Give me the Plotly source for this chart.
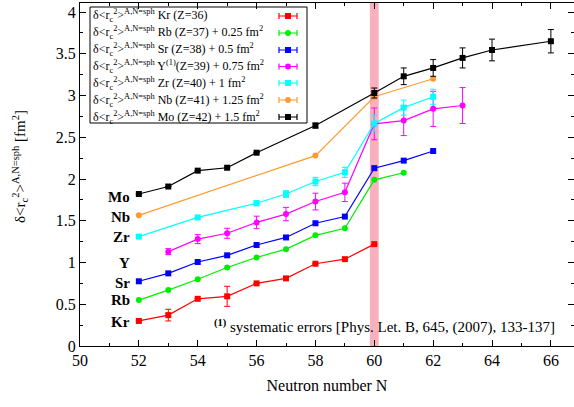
import plotly.graph_objects as go

# ---------------- data (plotted values, offsets already included) ----------------
kr_n = [52, 53, 54, 55, 56, 57, 58, 59, 60]
kr_v = [0.30, 0.37, 0.565, 0.595, 0.75, 0.81, 0.985, 1.04, 1.22]
kr_e = [0, 0.07, 0, 0.12, 0, 0, 0, 0, 0]

rb_n = [52, 53, 54, 55, 56, 57, 58, 59, 60, 61]
rb_v = [0.55, 0.67, 0.80, 0.94, 1.06, 1.16, 1.325, 1.41, 1.99, 2.075]

sr_n = [52, 53, 54, 55, 56, 57, 58, 59, 60, 61, 62]
sr_v = [0.775, 0.87, 1.006, 1.086, 1.21, 1.30, 1.47, 1.55, 2.13, 2.22, 2.335]

y_n = [53, 54, 55, 56, 57, 58, 59, 60, 61, 62, 63]
y_v = [1.13, 1.28, 1.35, 1.48, 1.58, 1.73, 1.84, 2.66, 2.70, 2.84, 2.88]
y_e = [0.036, 0.054, 0.06, 0.075, 0.08, 0.10, 0.11, 0.19, 0.18, 0.21, 0.215]

zr_n = [52, 54, 56, 57, 58, 59, 60, 61, 62]
zr_v = [1.31, 1.54, 1.71, 1.82, 1.97, 2.08, 2.665, 2.855, 2.985]
zr_e = [0, 0, 0.03, 0.04, 0.05, 0.06, 0.10, 0.09, 0.09]

nb_n = [52, 58, 60, 62]
nb_v = [1.565, 2.28, 2.985, 3.20]

mo_n = [52, 53, 54, 55, 56, 58, 60, 61, 62, 63, 64, 66]
mo_v = [1.82, 1.91, 2.10, 2.135, 2.315, 2.64, 3.03, 3.23, 3.33, 3.45, 3.545, 3.65]
mo_e = [0, 0, 0, 0, 0, 0.03, 0.06, 0.10, 0.10, 0.12, 0.13, 0.14]

legend_labels = [
    "Kr (Z=36)",
    "Rb (Z=37) + 0.25 fm<sup>2</sup>",
    "Sr (Z=38) + 0.5 fm<sup>2</sup>",
    "Y<sup>(1)</sup>(Z=39) + 0.75 fm<sup>2</sup>",
    "Zr (Z=40) + 1 fm<sup>2</sup>",
    "Nb (Z=41) + 1.25 fm<sup>2</sup>",
    "Mo (Z=42) + 1.5 fm<sup>2</sup>",
]
side_labels = ["Kr", "Rb", "Sr", "Y", "Zr", "Nb", "Mo"]
side_label_y = [0.29, 0.55, 0.75, 0.99, 1.30, 1.55, 1.79]

tick_x = [50, 52, 54, 56, 58, 60, 62, 64, 66]
tick_y = [0, 0.5, 1, 1.5, 2, 2.5, 3, 3.5, 4]

series = [
    (kr_n, kr_v, kr_e, "#ff0000", "square"),
    (rb_n, rb_v, None, "#00ee00", "circle"),
    (sr_n, sr_v, None, "#0000ff", "square"),
    (y_n, y_v, y_e, "#ff00ff", "circle"),
    (zr_n, zr_v, zr_e, "#00ffff", "square"),
    (nb_n, nb_v, None, "#ff9a30", "circle"),
    (mo_n, mo_v, mo_e, "#000000", "square"),
]

FONT = "Liberation Serif"
W, H = 574, 407
PLOT_L, PLOT_R, PLOT_T, PLOT_B = 80, 574, 3, 346   # plot area in px
L, R, T, B = PLOT_L, W - PLOT_R, PLOT_T, H - PLOT_B


def px(xp):
    return (xp - PLOT_L) / (PLOT_R - PLOT_L)


def py(yp):
    return (PLOT_B - yp) / (PLOT_B - PLOT_T)


fig = go.Figure()

for (n, v, e, col, sym), lab in zip(series, legend_labels):
    kw = {}
    if e is not None:
        kw["error_y"] = dict(type="data", array=e, visible=True, color=col,
                             thickness=1, width=3)
    fig.add_trace(go.Scatter(
        x=n, y=v, mode="lines+markers",
        line=dict(color=col, width=1.2),
        marker=dict(color=col, symbol=sym, size=6),
        showlegend=False, **kw))

# manual legend samples (on a helper pixel axis)
row_y = [16, 33, 50, 66.5, 83, 100, 117]
for (n, v, e, col, sym), ry, lab in zip(series, row_y, legend_labels):
    fig.add_trace(go.Scatter(
        x=[288], y=[ry], mode="markers", xaxis="x2", yaxis="y2",
        marker=dict(color=col, symbol=sym, size=6),
        error_x=dict(type="data", array=[9], visible=True, color=col,
                     thickness=1.2, width=3),
        showlegend=False, hoverinfo="skip"))
    fig.add_annotation(
        xref="paper", yref="paper", x=px(91), y=py(ry),
        xanchor="left", yanchor="middle", showarrow=False,
        text="δ&lt;r<sub>c</sub><sup>2</sup>&gt;<sup>A,N=sph</sup> " + lab,
        font=dict(family=FONT, size=12, color="black"))

# legend box
fig.add_shape(type="rect", xref="paper", yref="paper",
              x0=px(90), x1=px(307), y0=py(123), y1=py(7),
              line=dict(color="black", width=1), fillcolor="rgba(0,0,0,0)")

# pink band at N = 60
fig.add_shape(type="rect", xref="x", yref="paper", x0=59.85, x1=60.15,
              y0=0, y1=1, fillcolor="#f9b0bd", line=dict(width=0),
              layer="below")

# element labels
for lab, yy in zip(side_labels, side_label_y):
    fig.add_annotation(x=51.75, y=yy, xref="x", yref="y", text="<b>" + lab + "</b>",
                       xanchor="right", yanchor="middle", showarrow=False,
                       font=dict(family=FONT, size=15, color="black"))

# footnote
fig.add_annotation(xref="paper", yref="paper", x=px(212), y=py(326),
                   xanchor="left", yanchor="middle", showarrow=False,
                   text="<sup><b>(1)</b></sup> systematic errors [Phys. Let. B, 645, (2007), 133-137]",
                   font=dict(family=FONT, size=15, color="black"))

# y axis title
fig.add_annotation(xref="paper", yref="paper", x=px(20), y=py(167),
                   xanchor="center", yanchor="middle", showarrow=False,
                   textangle=-90,
                   text="δ&lt;r<sub>c</sub><sup>2</sup>&gt;<sup>A,N=sph</sup> [fm<sup>2</sup>]",
                   font=dict(family=FONT, size=15, color="black"))

y_top = (PLOT_B - PLOT_T) / 83.5
x_right = 50 + (PLOT_R - 80.5) / 29.4

fig.update_layout(
    width=W, height=H,
    margin=dict(l=L, r=R, t=T, b=B, pad=0),
    paper_bgcolor="white", plot_bgcolor="white",
    font=dict(family=FONT, size=16, color="black"),
    xaxis=dict(range=[50, x_right], tickvals=tick_x, ticks="inside", ticklen=6,
               tickcolor="black", showline=True, linecolor="black", linewidth=1,
               mirror="ticks", showgrid=False, zeroline=False,
               ticklabeloverflow="allow",
               minor=dict(dtick=1, ticks="inside", ticklen=3, tickcolor="black"),
               title=dict(text="Neutron number N", standoff=11,
                          font=dict(family=FONT, size=16))),
    yaxis=dict(range=[0, y_top], tickvals=tick_y, ticks="inside", ticklen=6,
               tickcolor="black", showline=True, linecolor="black", linewidth=1,
               mirror="ticks", showgrid=False, zeroline=False,
               ticklabeloverflow="allow",
               minor=dict(dtick=0.25, ticks="inside", ticklen=3, tickcolor="black")),
    xaxis2=dict(domain=[0, 1], range=[PLOT_L, PLOT_R], visible=False, overlaying="x",
                anchor="y2"),
    yaxis2=dict(domain=[0, 1], range=[PLOT_B, PLOT_T], visible=False, overlaying="y",
                anchor="x2"),
)

fig.write_html("out.html",
               config={"displayModeBar": False},
               post_script="document.body.style.margin='0px';"
                           "document.body.style.overflow='hidden';")
